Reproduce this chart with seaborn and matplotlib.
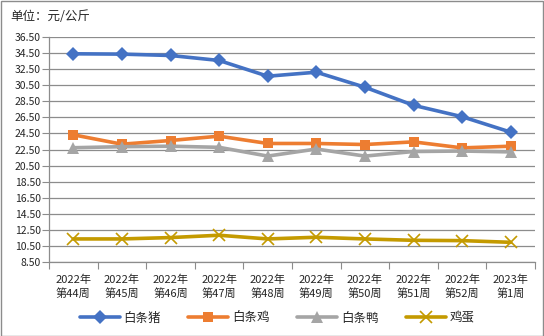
import matplotlib
matplotlib.use("Agg")
import matplotlib.pyplot as plt
import seaborn as sns
import numpy as np
import pandas as pd
from matplotlib.patches import Rectangle
from matplotlib.ticker import FixedLocator

categories = ["2022年\n第44周", "2022年\n第45周", "2022年\n第46周", "2022年\n第47周", "2022年\n第48周",
              "2022年\n第49周", "2022年\n第50周", "2022年\n第51周", "2022年\n第52周", "2023年\n第1周"]
pork = [34.41, 34.37, 34.20, 33.58, 31.62, 32.12, 30.25, 28.00, 26.58, 24.66]
chicken = [24.33, 23.16, 23.62, 24.16, 23.25, 23.25, 23.12, 23.45, 22.70, 22.91]
duck = [22.72, 22.85, 22.91, 22.77, 21.68, 22.56, 21.68, 22.25, 22.31, 22.20]
egg = [11.37, 11.37, 11.54, 11.83, 11.37, 11.58, 11.37, 11.20, 11.16, 10.95]
series_names = ["白条猪", "白条鸡", "白条鸭", "鸡蛋"]
yticks = [8.5 + 2 * i for i in range(15)]

sns.set_theme(style="white")
plt.rcParams['font.family'] = ['Noto Sans CJK SC', 'DejaVu Sans']

fig = plt.figure(figsize=(5.44, 3.36), dpi=100)
ax = fig.add_axes([49/544, (336-262)/336, (535-49)/544, (262-37)/336])

df = pd.DataFrame({
    "idx": list(range(len(categories))) * 4,
    "value": pork + chicken + duck + egg,
    "series": sum([[n] * len(categories) for n in series_names], []),
})

colors = ["#4472C4", "#ED7D31", "#A5A5A5", "#C49A00"]
markers = ["D", "s", "^", "x"]
msizes = [7, 7, 8, 8]
for name, c, m, ms in zip(series_names, colors, markers, msizes):
    sub = df[df.series == name]
    kw = dict(markeredgewidth=1.2) if m == "x" else dict(markeredgewidth=0)
    sns.lineplot(data=sub, x="idx", y="value", ax=ax, color=c, marker=m, markersize=ms,
                 linewidth=2.6, label=name, markeredgecolor=c, legend=False, **kw)

ax.set_xlim(-0.5, len(categories) - 0.5)
ax.set_ylim(8.5, 36.5)
ax.set_yticks(yticks)
ax.set_yticklabels([f"{v:.2f}" for v in yticks])
ax.set_xticks(range(len(categories)))
ax.set_xticklabels(categories)
ax.xaxis.set_minor_locator(FixedLocator(np.arange(-0.5, len(categories), 1.0)))
ax.tick_params(axis="x", which="major", length=0, labelsize=8, pad=9)
ax.tick_params(axis="x", which="minor", length=5, width=0.8, color="#8C8C8C", direction="out", bottom=True)
ax.tick_params(axis="y", length=5, width=0.8, color="#8C8C8C", labelsize=7.5, left=True, direction="out", pad=1)
for lab in ax.get_xticklabels():
    lab.set_linespacing(1.35)
ax.grid(axis="y", color="#8C8C8C", linewidth=0.9)
ax.set_axisbelow(True)
for s in ["top", "right"]:
    ax.spines[s].set_visible(False)
for s in ["left", "bottom"]:
    ax.spines[s].set_color("#8C8C8C")
    ax.spines[s].set_linewidth(0.9)
ax.set_xlabel("")
ax.set_ylabel("")

handles, labels = ax.get_legend_handles_labels()
fig.legend(handles, labels, loc="center", bbox_to_anchor=(277/544, 1 - 318/336), ncol=4, frameon=False,
           fontsize=9, handlelength=3.2, columnspacing=2.2, handletextpad=0.3, borderpad=0)

fig.text(10/544, 1 - 17/336, "单位：元/公斤", fontsize=9, va="center", ha="left")
fig.patches.append(Rectangle((0.5/544, 0.5/336), 1 - 1.5/544, 1 - 1.5/336, transform=fig.transFigure,
                             fill=False, edgecolor="#8C8C8C", linewidth=1))

fig.savefig("out.png", dpi=100)
